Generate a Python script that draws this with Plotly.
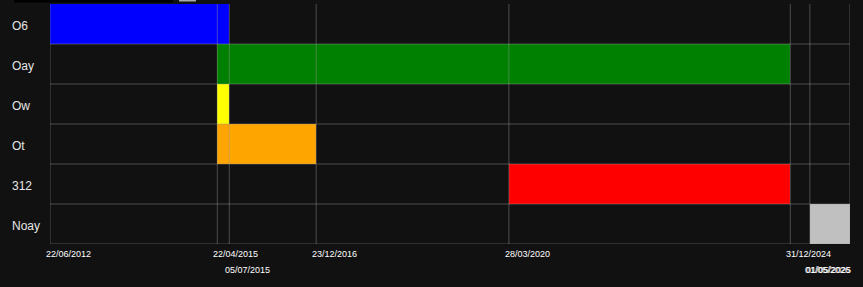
import plotly.graph_objects as go
import pandas as pd

# ---- data ----
tasks = ["O6", "Oay", "Ow", "Ot", "312", "Noay"]
starts = ["2012-06-22", "2015-04-22", "2015-04-22", "2015-04-22", "2020-03-28", "2025-05-01"]
ends = ["2015-07-05", "2024-12-31", "2015-07-05", "2016-12-23", "2024-12-31", "2026-05-01"]
colors = ["#0000ff", "#008000", "#ffff00", "#ffa500", "#ff0000", "#c0c0c0"]
view_start = "2012-06-22"
view_end = "2026-01-04"

# ---- layout constants ----
W, H = 863, 287
ML, MR, MT, MB = 50, 13, 4, 43
PW = W - ML - MR
BG = "#111111"
GRID = "rgba(150,150,150,0.45)"
FONT = "Arial, Liberation Sans, sans-serif"

durations = [(pd.Timestamp(e) - pd.Timestamp(s)).total_seconds() * 1000
             for s, e in zip(starts, ends)]

fig = go.Figure(go.Bar(
    y=tasks, x=durations, base=starts, orientation="h",
    marker=dict(color=colors, line=dict(width=0)), width=1,
    hoverinfo="skip",
))

vs, ve = pd.Timestamp(view_start), pd.Timestamp(view_end)


def to_px(d):
    return ML + PW * (d - vs) / (ve - vs)


tick_dates = sorted(set(pd.Timestamp(d) for d in starts + ends))

shapes = []
annotations = []
row1_spans = []
LABEL_W = 45
for d in tick_dates:
    clamped = min(d, ve)
    shapes.append(dict(type="line", xref="x", yref="paper",
                       x0=clamped, x1=clamped, y0=0, y1=1,
                       line=dict(color=GRID, width=1), layer="above"))
    p = to_px(clamped)
    if d > ve:
        span = (p - LABEL_W, p)
        anchor, shift = "right", 2
    else:
        span = (p - 4, p - 4 + LABEL_W)
        anchor, shift = "left", -6
    overlap = any(span[0] < s[1] and s[0] < span[1] for s in row1_spans)
    if overlap:
        ysh = -26
    else:
        ysh = -10
        row1_spans.append(span)
    annotations.append(dict(
        x=clamped, xref="x", y=0, yref="paper", yanchor="middle",
        xanchor=anchor, xshift=shift, yshift=ysh, showarrow=False,
        text=d.strftime("%d/%m/%Y"),
        font=dict(family=FONT, size=9, color="#ffffff"),
    ))

# row boundaries
for k in range(len(tasks)):
    shapes.append(dict(type="line", xref="paper", yref="y",
                       x0=0, x1=1, y0=k + 0.5, y1=k + 0.5,
                       line=dict(color=GRID, width=1), layer="above"))

# category labels, left aligned
for k, t in enumerate(tasks):
    annotations.append(dict(
        x=(10 - ML) / PW, xref="paper", y=k, yref="y",
        xanchor="left", yanchor="middle", yshift=-2, showarrow=False, text=t,
        font=dict(family=FONT, size=12, color="#e6e6e6"),
    ))

# clipped strip at the very top
PH = H - MT - MB
shapes.append(dict(type="rect", xref="paper", yref="paper",
                   x0=(14 - ML) / PW, x1=(173 - ML) / PW,
                   y0=1 + (MT - 2.5) / PH, y1=1 + MT / PH + 0.01,
                   fillcolor="#000000", line=dict(width=0), layer="above"))
shapes.append(dict(type="rect", xref="paper", yref="paper",
                   x0=(179 - ML) / PW, x1=(196 - ML) / PW,
                   y0=1 + (MT - 1.5) / PH, y1=1 + MT / PH + 0.01,
                   fillcolor="#aaaaaa", line=dict(width=0), layer="above"))

fig.update_layout(
    width=W, height=H,
    margin=dict(l=ML, r=MR, t=MT, b=MB, pad=0),
    paper_bgcolor=BG, plot_bgcolor=BG,
    showlegend=False, bargap=0,
    shapes=shapes, annotations=annotations,
    xaxis=dict(type="date", range=[view_start, view_end], showgrid=False,
               showticklabels=False, zeroline=False, showline=False,
               fixedrange=True),
    yaxis=dict(type="category", categoryorder="array", categoryarray=tasks,
               range=[len(tasks) - 0.5, -0.5], showgrid=False,
               showticklabels=False, zeroline=False, showline=False,
               fixedrange=True),
)

fig.write_html("out.html", config={"displayModeBar": False})
